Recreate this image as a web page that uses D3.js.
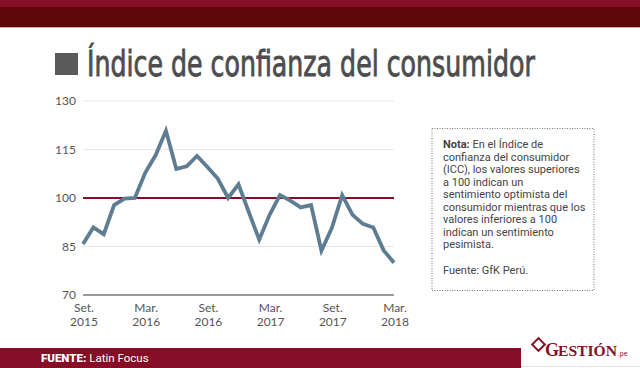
<!DOCTYPE html>
<html>
<head>
<meta charset="utf-8">
<script src="https://cdn.jsdelivr.net/npm/d3@7"></script>
<style>
  body { margin: 0; background: #fff; }
  svg { display: block; }
  .tick-label { font-family: Lato, "Open Sans", sans-serif; font-size: 12px; fill: #555; }
  .note { font-family: Roboto, sans-serif; font-size: 11px; fill: #444; }
</style>
</head>
<body>
<svg id="chart" width="640" height="368"></svg>
<script>
// Índice de confianza del consumidor, Set. 2015 - Mar. 2018 (monthly)
const values = [85.8, 90.9, 88.8, 97.8, 99.8, 100, 107.8, 113.2, 120.8, 109, 109.8,
                113, 109.6, 106, 100, 104.2, 95.6, 87.1, 94.8, 100.9, 99.2, 97.1, 97.8,
                83.7, 90.7, 100.9, 94.8, 92, 90.9, 83.8, 80];
const yTicks = [70, 85, 100, 115, 130];
const xTickIndex = [0, 6, 12, 18, 24, 30];
const xTickMonths = ["Set.", "Mar.", "Set.", "Mar.", "Set.", "Mar."];
const xTickYears = ["2015", "2016", "2016", "2017", "2017", "2018"];
const refValue = 100;
const noteLines = ["En el Índice de", "confianza del consumidor", "(ICC), los valores superiores",
                   "a 100 indican un", "sentimiento optimista del", "consumidor mientras que los",
                   "valores inferiores a 100", "indican un sentimiento", "pesimista."];

const svg = d3.select("#chart");

// top bands
svg.append("rect").attr("x", 0).attr("y", 0).attr("width", 640).attr("height", 8).attr("fill", "#880d27");
svg.append("rect").attr("x", 0).attr("y", 7).attr("width", 640).attr("height", 20).attr("fill", "#600809");
svg.append("rect").attr("x", 0).attr("y", 27).attr("width", 640).attr("height", 1).attr("fill", "#d9a7ad");

// title (condensed: squeeze horizontally to the reference width)
svg.append("rect").attr("x", 55).attr("y", 53).attr("width", 23).attr("height", 22).attr("fill", "#5a5a5a");
const titleG = svg.append("g");
const title = titleG.append("text")
  .attr("x", 0).attr("y", 0)
  .style("font-family", "'Liberation Sans Narrow', 'DejaVu Sans Condensed', sans-serif")
  .style("font-size", "35px")
  .style("fill", "#4d4d4d")
  .style("stroke", "#4d4d4d")
  .style("stroke-width", 0.8)
  .text("Índice de confianza del consumidor");
const titleW = title.node().getComputedTextLength();
titleG.attr("transform", `translate(87,76) scale(${448 / titleW},1)`);

// scales
const x = d3.scaleLinear().domain([0, values.length - 1]).range([83, 394]);
const y = d3.scaleLinear().domain([70, 130]).range([295, 101]);

const g = svg.append("g");

// gridlines
g.selectAll(".grid")
  .data(yTicks.filter(t => t !== 70 && t !== refValue))
  .enter().append("line")
    .attr("x1", x.range()[0]).attr("x2", x.range()[1])
    .attr("y1", d => y(d)).attr("y2", d => y(d))
    .attr("stroke", "#e6e6e6").attr("stroke-width", 1);

// baseline axis
g.append("line")
  .attr("x1", x.range()[0]).attr("x2", x.range()[1])
  .attr("y1", y(70)).attr("y2", y(70))
  .attr("stroke", "#7a7a7a").attr("stroke-width", 1.5);

// y labels
g.selectAll(".ylab")
  .data(yTicks)
  .enter().append("text")
    .attr("class", "tick-label")
    .attr("x", 76).attr("y", d => y(d))
    .attr("dy", "0.35em")
    .attr("text-anchor", "end")
    .text(d => d);

// x labels, two lines
g.selectAll(".xmon")
  .data(xTickIndex)
  .enter().append("text")
    .attr("class", "tick-label")
    .attr("text-anchor", "middle")
    .attr("x", d => x(d) + 1).attr("y", 311.5)
    .text((d, i) => xTickMonths[i]);
g.selectAll(".xyear")
  .data(xTickIndex)
  .enter().append("text")
    .attr("class", "tick-label")
    .attr("text-anchor", "middle")
    .attr("x", d => x(d) + 1).attr("y", 325.5)
    .text((d, i) => xTickYears[i]);

// reference line at 100
g.append("line")
  .attr("x1", x.range()[0]).attr("x2", x.range()[1])
  .attr("y1", y(refValue)).attr("y2", y(refValue))
  .attr("stroke", "#8a0c22").attr("stroke-width", 2);

// data line
const line = d3.line()
  .x((d, i) => x(i))
  .y(d => y(d));

g.append("path")
  .datum(values)
  .attr("d", line)
  .attr("fill", "none")
  .attr("stroke", "#5f7d92")
  .attr("stroke-width", 3.8)
  .attr("stroke-linejoin", "miter")
  .attr("stroke-linecap", "butt");

// note box
svg.append("rect")
  .attr("x", 432).attr("y", 128.5).attr("width", 162).attr("height", 162)
  .attr("fill", "none").attr("stroke", "#777").attr("stroke-width", 1)
  .attr("stroke-dasharray", "1,1.5");

const note = svg.append("text").attr("class", "note");
note.selectAll("tspan")
  .data(noteLines)
  .enter().append("tspan")
    .attr("x", 443)
    .attr("y", (d, i) => 148 + i * 12.5)
    .each(function(d, i) {
      const t = d3.select(this);
      if (i === 0) t.append("tspan").style("font-weight", "bold").text("Nota: ");
      t.append("tspan").text(d);
    });
svg.append("text").attr("class", "note")
  .attr("x", 443).attr("y", 274)
  .text("Fuente: GfK Perú.");

// footer
svg.append("rect").attr("x", 0).attr("y", 348).attr("width", 521).attr("height", 20).attr("fill", "#870c26");
const foot = svg.append("text")
  .attr("x", 41).attr("y", 362)
  .style("font-family", "Roboto, sans-serif").style("font-size", "11.5px").style("fill", "#fff");
foot.append("tspan").style("font-weight", "900").text("FUENTE: ");
foot.append("tspan").text("Latin Focus");

// logo
const logo = svg.append("g").attr("transform", "translate(533,346)");
logo.append("rect").attr("x", 1).attr("y", -6).attr("width", 9).attr("height", 9)
  .attr("transform", "rotate(45,5.5,-1.5)")
  .attr("fill", "none").attr("stroke", "#8a0e26").attr("stroke-width", 2);
logo.append("text").attr("x", 12).attr("y", 10)
  .style("font-family", "'Liberation Serif', serif").style("font-weight", "bold")
  .style("font-size", "18px").style("fill", "#8a0e26")
  .text("G");
logo.append("text").attr("x", 25).attr("y", 10)
  .attr("textLength", 59).attr("lengthAdjust", "spacingAndGlyphs")
  .style("font-family", "'Liberation Serif', serif").style("font-weight", "bold")
  .style("font-size", "14.5px").style("fill", "#8a0e26")
  .text("ESTIÓN");
logo.append("text").attr("x", 85).attr("y", 10)
  .style("font-family", "Roboto, sans-serif")
  .style("font-size", "7px").style("fill", "#8a0e26")
  .text(".pe");
svg.append("line").attr("x1", 521).attr("x2", 640).attr("y1", 366.5).attr("y2", 366.5)
  .attr("stroke", "#e4e4e4");
</script>
</body>
</html>
